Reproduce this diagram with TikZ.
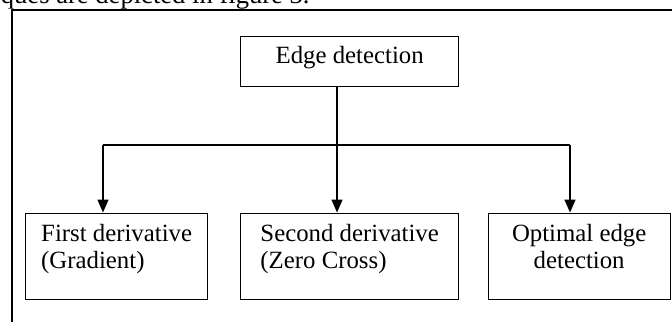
\documentclass[tikz,border=0pt]{standalone}
\usepackage{fontspec}
\setmainfont{Liberation Serif}
\usetikzlibrary{arrows.meta}
\usetikzlibrary{positioning}
\tikzset {
  % plain connector
  conn/.style = {
    draw = black,
    line width = 0.75pt
  },
  % connector with a filled tip at its end
  arr/.style = {
    conn,
    -{Triangle[length=6.5pt,width=5.5pt]}
  },
  % frame round the figure
  frame/.style = {
    draw = black,
    line width = 1.15pt
  }
}
\tikzset {
  box/.style = {
    draw = black,
    line width = 0.65pt,
    inner sep = 0,
    font = \fontsize{12.4}{13.8}\selectfont
  },
  % top node, one line
  head/.style = {
    box,
    minimum width = 109pt,
    minimum height = 25pt,
    text height = 13.65pt,
    text depth = 11.35pt
  },
  % lower nodes, two lines at the top
  leaf/.style = {
    box,
    minimum height = 43pt,
    text height = 27.9pt,
    text depth = 15.1pt
  }
}

\begin{document}
\begin{tikzpicture}[x=0.5pt, y=-0.5pt]
    \useasboundingbox (0,0) rectangle (672,321);
    \clip (0,0) rectangle (672,321);

    \node[anchor=base east, inner sep=0, font=\fontsize{13.3}{16}\selectfont] (intro) at (310,3.3) {ques are depicted in figure 3.};
    \draw[frame] (12,10) rectangle (700,340);

    \node[head, anchor=north west] (edge) at (240,36) {Edge detection};
    \node[leaf, align=left, minimum width=91pt, anchor=north west] (first) at (25,212.5) {First derivative\\(Gradient)};
    \node[leaf, align=left, minimum width=109pt, anchor=north west] (second) at (240,212.5) {Second derivative\\(Zero Cross)};
    \node[leaf, align=center, minimum width=91pt, anchor=north west] (optimal) at (487.5,212.5) {Optimal edge\\detection};

    \coordinate (split) at (337,145);
    \coordinate (split-left) at (103,145);
    \coordinate (split-right) at (570,145);

    \draw[conn] (edge.south -| split) -- (split);
    \draw[conn] (split-left) -- (split-right);
    \draw[arr] (split-left) -- (split-left |- first.north);
    \draw[arr] (split) -- (split |- second.north);
    \draw[arr] (split-right) -- (split-right |- optimal.north);
\end{tikzpicture}
\end{document}
